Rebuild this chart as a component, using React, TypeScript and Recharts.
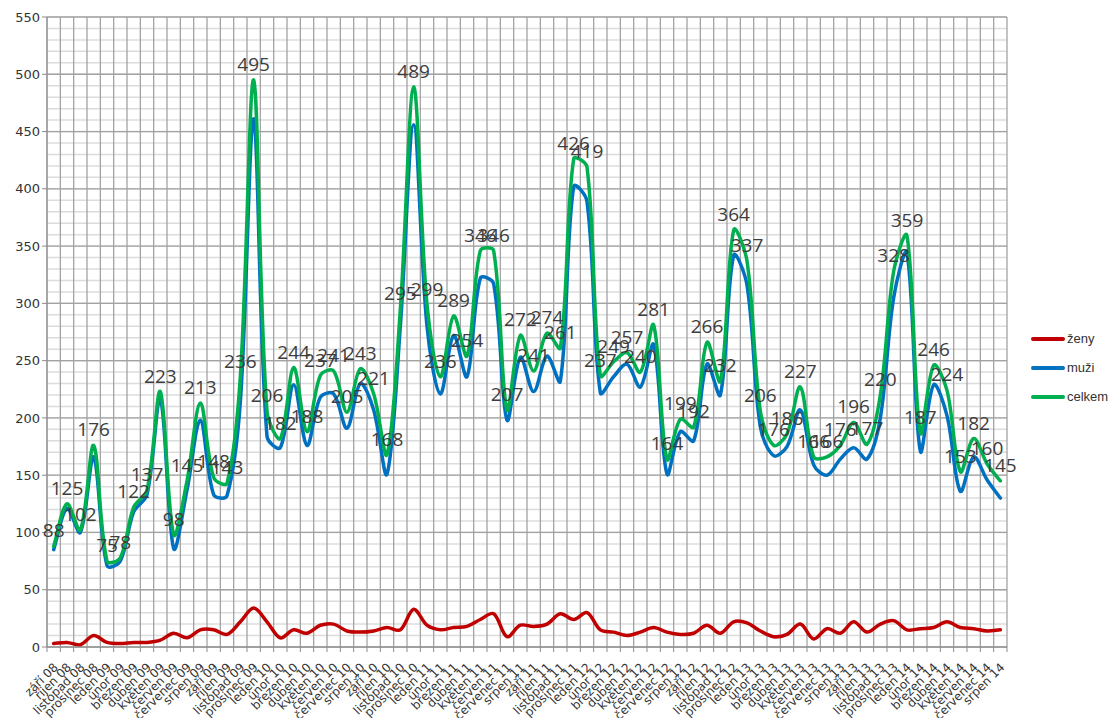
import { CartesianGrid, LabelList, Legend, Line, LineChart, XAxis, YAxis } from "recharts";

const MONTH_NAMES = [
  "září", "říjen", "listopad", "prosinec", "leden", "únor",
  "březen", "duben", "květen", "červen", "červenec", "srpen",
];
const YEARS = ["08", "09", "10", "11", "12", "13", "14"];

// září 08 .. srpen 14
const months = Array.from({ length: 72 }, (_, k) => `${MONTH_NAMES[k % 12]} ${YEARS[Math.floor((k + 8) / 12)]}`);

const zeny = [
  3, 4, 2, 10, 4, 3, 4, 4, 6, 12, 8, 15, 15, 11, 22, 34, 22, 8, 15, 12, 19, 20, 14, 13,
  14, 17, 15, 33, 19, 15, 17, 18, 24, 29, 9, 19, 18, 20, 29, 24, 30, 15, 13, 10, 13, 17, 13, 11,
  12, 19, 12, 22, 21, 14, 9, 11, 20, 7, 16, 12, 22, 13, 20, 23, 15, 16, 17, 22, 17, 16, 14, 15,
];

const muzi = [
  85, 121, 100, 166, 71, 75, 118, 133, 217, 86, 137, 198, 133, 132, 214, 461, 184, 174, 229, 176, 218, 221, 191, 230,
  207, 151, 280, 456, 280, 221, 272, 236, 322, 317, 198, 253, 223, 254, 232, 402, 389, 222, 236, 247, 227, 264, 151, 188,
  180, 247, 220, 342, 316, 192, 167, 175, 207, 159, 150, 164, 174, 164, 200, 305, 344, 171, 229, 202, 136, 166, 146, 130,
];

const celkem = [
  88, 125, 102, 176, 75, 78, 122, 137, 223, 98, 145, 213, 148, 143, 236, 495, 206, 182, 244, 188, 237, 241, 205, 243,
  221, 168, 295, 489, 299, 236, 289, 254, 346, 346, 207, 272, 241, 274, 261, 426, 419, 237, 249, 257, 240, 281, 164, 199,
  192, 266, 232, 364, 337, 206, 176, 186, 227, 166, 166, 176, 196, 177, 220, 328, 359, 187, 246, 224, 153, 182, 160, 145,
];

const yTicks = [0, 50, 100, 150, 200, 250, 300, 350, 400, 450, 500, 550];
const yMinor = Array.from({ length: 56 }, (_, k) => k * 10);
const catTicks = months.map((_, i) => i);
const edgeTicks = Array.from({ length: 73 }, (_, k) => k);

const data = months.map((m, i) => ({ i, month: m, zeny: zeny[i], muzi: muzi[i], celkem: celkem[i] }));

const SERIES = [
  { key: "zeny", name: "ženy", color: "#C00000" },
  { key: "muzi", name: "muži", color: "#0070C0" },
  { key: "celkem", name: "celkem", color: "#00B050" },
];

// smoothed line like Excel's: bezier through the points, handles scaled by chord length
function excelCurve(context: any) {
  let pts: number[][] = [];
  const dist = (a: number[], b: number[]) => Math.hypot(b[0] - a[0], b[1] - a[1]) || 1e-6;
  return {
    areaStart() {},
    areaEnd() {},
    lineStart() {
      pts = [];
    },
    point(x: number, y: number) {
      pts.push([+x, +y]);
    },
    lineEnd() {
      if (!pts.length) return;
      context.moveTo(pts[0][0], pts[0][1]);
      for (let i = 0; i < pts.length - 1; i++) {
        const p0 = pts[i - 1] || pts[i];
        const p1 = pts[i];
        const p2 = pts[i + 1];
        const p3 = pts[i + 2] || p2;
        const d01 = pts[i - 1] ? dist(p0, p1) : 0;
        const d12 = dist(p1, p2);
        const d23 = pts[i + 2] ? dist(p2, p3) : 0;
        const k1 = d12 / (d01 + d12) / 3;
        const k2 = d12 / (d12 + d23) / 3;
        context.bezierCurveTo(
          p1[0] + (p2[0] - p0[0]) * k1,
          p1[1] + (p2[1] - p0[1]) * k1,
          p2[0] - (p3[0] - p1[0]) * k2,
          p2[1] - (p3[1] - p1[1]) * k2,
          p2[0],
          p2[1]
        );
      }
    },
  };
}

const MonthTick = ({ x, y, payload }: any) => (
  <text
    x={x + 5}
    y={y + 7}
    transform={`rotate(-45, ${x + 5}, ${y + 7})`}
    textAnchor="end"
    fontSize={12}
    fill="#333"
    fontFamily="DejaVu Sans"
  >
    {months[payload.value]}
  </text>
);

const renderLegend = () => (
  <div style={{ fontFamily: "Liberation Sans", fontSize: 13, color: "#333", whiteSpace: "nowrap" }}>
    {SERIES.map((s) => (
      <div key={s.key} style={{ display: "flex", alignItems: "center", height: 29 }}>
        <svg width={34} height={10}>
          <line x1={2} y1={5} x2={32} y2={5} stroke={s.color} strokeWidth={4} strokeLinecap="round" />
        </svg>
        <span style={{ marginLeft: 2 }}>{s.name}</span>
      </div>
    ))}
  </div>
);

export default function App() {
  return (
    <div style={{ position: "relative", width: 1110, height: 710 }}>
      <LineChart width={1110} height={710} data={data} margin={{ top: 9, right: 111, bottom: 0, left: 0 }}>
        <CartesianGrid xAxisId="grid" horizontalValues={yMinor} vertical={false} stroke="#dcdcdc" strokeWidth={1.5} />
        <CartesianGrid xAxisId="grid" stroke="#a3a3a3" strokeWidth={1.3} />
        <XAxis
          xAxisId="grid"
          dataKey="i"
          type="number"
          domain={[0, 72]}
          ticks={edgeTicks}
          interval={0}
          tickFormatter={() => ""}
          tickSize={5}
          height={6}
          stroke="#8c8c8c"
          tickLine={{ stroke: "#8c8c8c" }}
        />
        <XAxis
          xAxisId="lab"
          dataKey="i"
          type="number"
          domain={[-0.5, 71.5]}
          ticks={catTicks}
          interval={0}
          tick={<MonthTick />}
          tickLine={false}
          axisLine={false}
          height={65}
        />
        <YAxis
          domain={[0, 550]}
          ticks={yTicks}
          interval={0}
          width={39}
          tickSize={5}
          stroke="#8c8c8c"
          tick={{ fontSize: 13, fill: "#333", fontFamily: "DejaVu Sans" }}
        />
        <Legend
          layout="vertical"
          align="center"
          verticalAlign="middle"
          content={renderLegend}
          wrapperStyle={{ left: 1023, top: 316, width: 86 }}
        />
        {SERIES.map((s) => (
          <Line
            key={s.key}
            xAxisId="lab"
            dataKey={s.key}
            name={s.name}
            type={excelCurve as any}
            stroke={s.color}
            strokeWidth={3.5}
            strokeLinecap="round"
            dot={false}
            isAnimationActive={false}
          >
            {s.key === "celkem" && (
              <LabelList
                dataKey="celkem"
                position="top"
                offset={9}
                fontSize={19}
                fill="#3d3d3d"
                fontFamily="Open Sans"
              />
            )}
          </Line>
        ))}
      </LineChart>
    </div>
  );
}
